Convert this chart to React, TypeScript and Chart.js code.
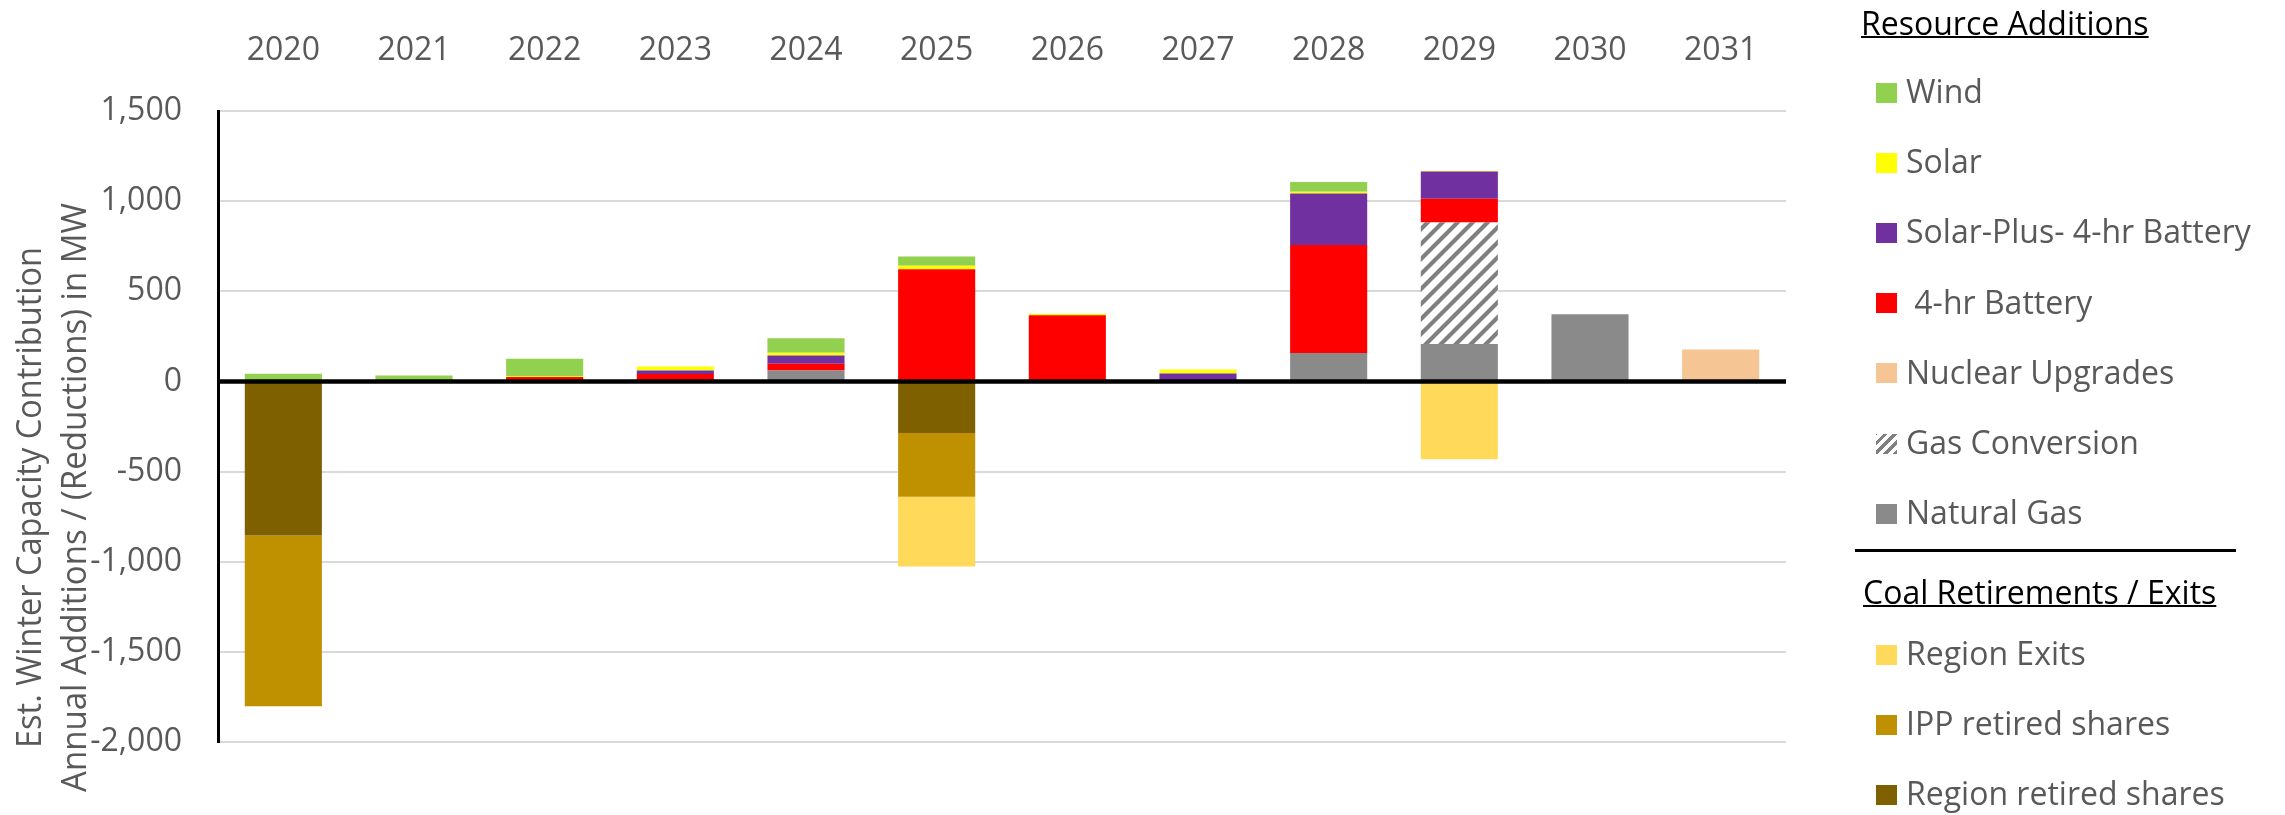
import React, { useEffect, useRef } from "react";
import { Chart, registerables } from "chart.js";

Chart.register(...registerables);

// ---------- data ----------
const years = ["2020", "2021", "2022", "2023", "2024", "2025", "2026", "2027", "2028", "2029", "2030", "2031"];

const naturalGas = [null, null, null, null, 61, null, null, null, 157, 207, 373, null];
const gasConversion = [null, null, null, null, null, null, null, null, null, 675, null, null];
const nuclearUpgrades = [null, null, null, null, null, null, null, null, null, null, null, 177];
const battery4hr = [null, null, 25, 41, 37, 622, 367, null, 600, 131, null, null];
const solarPlusBattery = [null, null, null, 20, 46, null, null, 44, 286, 152, null, null];
const solar = [null, null, 5, 22, 15, 19, 8, 22, 9, 4, null, null];
const wind = [42, 33, 96, null, 80, 52, null, null, 54, null, null, null];

const regionRetired = [-854, null, null, null, null, -286, null, null, null, null, null, null];
const ippRetired = [-948, null, null, null, null, -353, null, null, null, null, null, null];
const regionExits = [null, null, null, null, null, -388, null, null, null, -431, null, null];

const yMin = -2000;
const yMax = 1500;
const yStep = 500;

const yTitleLines = ["Est. Winter Capacity Contribution", "Annual Additions / (Reductions) in MW"];
const additionsHeader = "Resource Additions";
const retirementsHeader = "Coal Retirements / Exits";

// ---------- styles ----------
const FONT = '"Open Sans", sans-serif';
const TEXT = "#595959";
const HATCH = "hatch";

type Series = { label: string; data: (number | null)[]; color: string };

const stackOrder: Series[] = [
  { label: "Natural Gas", data: naturalGas, color: "#8A8A8A" },
  { label: "Gas Conversion", data: gasConversion, color: HATCH },
  { label: "Nuclear Upgrades", data: nuclearUpgrades, color: "#F6C594" },
  { label: " 4-hr Battery", data: battery4hr, color: "#FF0000" },
  { label: "Solar-Plus- 4-hr Battery", data: solarPlusBattery, color: "#7030A0" },
  { label: "Solar", data: solar, color: "#FFFF00" },
  { label: "Wind", data: wind, color: "#92D050" },
  { label: "Region retired shares", data: regionRetired, color: "#7F6000" },
  { label: "IPP retired shares", data: ippRetired, color: "#BF9000" },
  { label: "Region Exits", data: regionExits, color: "#FFD95A" },
];

const additionsLegend = ["Wind", "Solar", "Solar-Plus- 4-hr Battery", " 4-hr Battery", "Nuclear Upgrades", "Gas Conversion", "Natural Gas"];
const retirementsLegend = ["Region Exits", "IPP retired shares", "Region retired shares"];

function makeHatch(): CanvasPattern | string {
  const tile = document.createElement("canvas");
  tile.width = 15;
  tile.height = 15;
  const t = tile.getContext("2d");
  if (!t) return "#808080";
  t.fillStyle = "#ffffff";
  t.fillRect(0, 0, 15, 15);
  t.strokeStyle = "#808080";
  t.lineWidth = 4.2;
  t.beginPath();
  t.moveTo(-2, 17);
  t.lineTo(17, -2);
  t.moveTo(-9.5, 9.5);
  t.lineTo(9.5, -9.5);
  t.moveTo(5.5, 24.5);
  t.lineTo(24.5, 5.5);
  t.stroke();
  return t.createPattern(tile, "repeat") || "#808080";
}

const hatchCss =
  "repeating-linear-gradient(-45deg, #808080 0px, #808080 3px, #ffffff 3px, #ffffff 7px)";

function colorOf(label: string) {
  const s = stackOrder.find((d) => d.label === label);
  return s ? s.color : "#000";
}

function LegendRow({ label, y }: { label: string; y: number }) {
  const c = colorOf(label);
  return (
    <div
      style={{
        position: "absolute",
        left: 1876,
        top: y - 20,
        height: 40,
        display: "flex",
        alignItems: "center",
        whiteSpace: "pre",
      }}
    >
      <div
        style={{
          width: 21,
          height: 20,
          marginTop: 3,
          background: c === HATCH ? hatchCss : c,
          flex: "0 0 auto",
        }}
      />
      <span style={{ marginLeft: 9, font: `32px ${FONT}`, color: TEXT, lineHeight: "40px" }}>{label}</span>
    </div>
  );
}

export default function App() {
  const ref = useRef<HTMLCanvasElement | null>(null);

  useEffect(() => {
    let chart: Chart | null = null;
    let cancelled = false;
    const build = () => {
      if (cancelled || !ref.current) return;
      const hatch = makeHatch();
      const zeroLine = {
        id: "zeroLine",
        afterDatasetsDraw(c: any) {
          const ctx = c.ctx;
          const y = c.scales.y.getPixelForValue(0);
          ctx.save();
          ctx.strokeStyle = "#000";
          ctx.lineWidth = 4.5;
          ctx.beginPath();
          ctx.moveTo(c.chartArea.left, y);
          ctx.lineTo(c.chartArea.right, y);
          ctx.stroke();
          ctx.restore();
        },
      };
      const yTitle = {
        id: "yTitle",
        afterDraw(c: any) {
          const ctx = c.ctx;
          ctx.save();
          ctx.fillStyle = TEXT;
          ctx.font = `35px ${FONT}`;
          ctx.textAlign = "center";
          ctx.textBaseline = "alphabetic";
          const baselines = [41, 86];
          const lengths = [501, 589];
          yTitleLines.forEach((line, i) => {
            const w = ctx.measureText(line).width;
            ctx.save();
            ctx.translate(baselines[i], 497.5);
            ctx.rotate(-Math.PI / 2);
            ctx.scale(lengths[i] / w, 1);
            ctx.fillText(line, 0, 0);
            ctx.restore();
          });
          ctx.restore();
        },
      };
      chart = new Chart(ref.current, {
        type: "bar",
        data: {
          labels: years,
          datasets: stackOrder.map((s) => ({
            label: s.label,
            data: s.data,
            backgroundColor: s.color === HATCH ? (hatch as any) : s.color,
            borderWidth: 0,
            categoryPercentage: 1,
            barPercentage: 0.59,
          })),
        },
        options: {
          responsive: false,
          maintainAspectRatio: false,
          animation: false,
          layout: { padding: { left: 0, right: 499, top: 0, bottom: 73 } },
          plugins: { legend: { display: false }, tooltip: { enabled: false } },
          scales: {
            x: {
              position: "top",
              stacked: true,
              grid: { display: false, drawTicks: false },
              border: { display: false },
              ticks: {
                font: { family: FONT, size: 32 },
                color: TEXT,
                padding: 41,
                maxRotation: 0,
                autoSkip: false,
              },
              afterFit: (s: any) => {
                s.height = 111;
              },
            },
            y: {
              stacked: true,
              min: yMin,
              max: yMax,
              ticks: {
                stepSize: yStep,
                font: { family: FONT, size: 32 },
                color: TEXT,
                padding: 36,
                callback: (v: any) => Number(v).toLocaleString("en-US"),
              },
              grid: { color: "#D9D9D9", lineWidth: 2, drawTicks: false },
              border: { color: "#000", width: 3 },
              afterFit: (s: any) => {
                s.width = 218;
              },
            },
          },
        },
        plugins: [zeroLine, yTitle],
      });
    };
    const fonts: any = (document as any).fonts;
    if (fonts && fonts.load) {
      Promise.all([fonts.load(`32px ${FONT}`), fonts.load(`35px ${FONT}`)]).then(build, build);
    } else {
      build();
    }
    return () => {
      cancelled = true;
      if (chart) chart.destroy();
    };
  }, []);

  const rowStep = 70.2;
  return (
    <div style={{ position: "fixed", left: 0, top: 0, width: 2285, height: 815, background: "#fff", overflow: "hidden" }}>
      <canvas ref={ref} width={2285} height={815} style={{ display: "block", position: "absolute", left: 0, top: 0 }} />
      <div
        style={{
          position: "absolute",
          left: 1861,
          top: 3,
          font: `32px ${FONT}`,
          lineHeight: "40px",
          color: "#000",
          textDecoration: "underline",
          textDecorationThickness: 2,
          whiteSpace: "pre",
        }}
      >
        {additionsHeader}
      </div>
      {additionsLegend.map((l, i) => (
        <LegendRow key={l} label={l} y={91 + i * rowStep} />
      ))}
      <div style={{ position: "absolute", left: 1855, top: 549, width: 381, height: 3, background: "#000" }} />
      <div
        style={{
          position: "absolute",
          left: 1863,
          top: 572,
          font: `32px ${FONT}`,
          lineHeight: "40px",
          color: "#000",
          textDecoration: "underline",
          textDecorationThickness: 2,
          whiteSpace: "pre",
        }}
      >
        {retirementsHeader}
      </div>
      {retirementsLegend.map((l, i) => (
        <LegendRow key={l} label={l} y={653 + i * rowStep} />
      ))}
    </div>
  );
}
